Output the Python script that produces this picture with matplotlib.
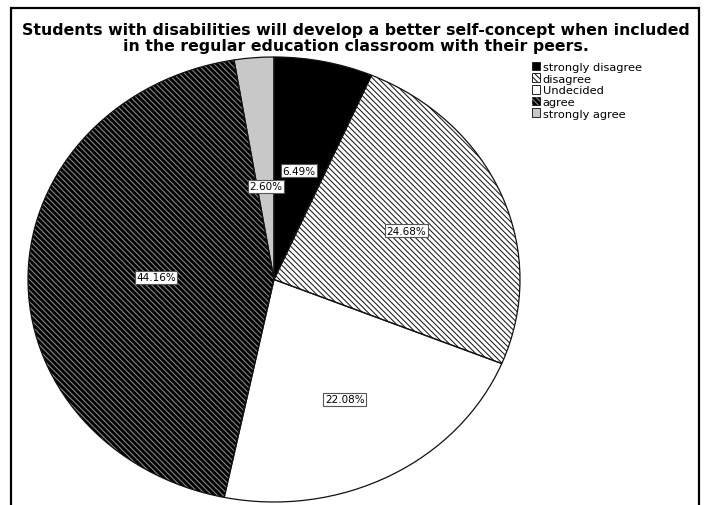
import numpy as np
import matplotlib
matplotlib.use("Agg")
import matplotlib.pyplot as plt
from matplotlib.patches import Patch, Rectangle

# survey responses (percent of respondents)
categories = ["strongly disagree", "disagree", "Undecided", "agree", "strongly agree"]
percents = [6.49, 24.68, 22.08, 44.16, 2.60]

fill_colors = ["#000000", "#ffffff", "#ffffff", "#000000", "#c8c8c8"]
hatch_colors = ["none", "#1a1a1a", "none", "#8c8c8c", "none"]
hatches = [None, "\\" * 6, None, "\\" * 6, None]
label_radius = [0.50, 0.58, 0.61, 0.48, 0.42]

title = ("Students with disabilities will develop a better self-concept when included\n"
         "in the regular education classroom with their peers.")

plt.rcParams["hatch.linewidth"] = 0.75

fig = plt.figure(figsize=(7.12, 5.06), dpi=100)
ax = fig.add_axes([28 / 712, 3 / 506, 492 / 712, 445 / 506])

# solid fills
wedges, _ = ax.pie(percents, colors=fill_colors, startangle=90,
                   counterclock=False, wedgeprops=dict(linewidth=0))

# hatch overlay
overlay, _ = ax.pie(percents, colors=["none"] * len(percents), startangle=90,
                    counterclock=False, hatch=hatches,
                    wedgeprops=dict(linewidth=0))
for w, hc in zip(overlay, hatch_colors):
    w.set_edgecolor(hc)

# outlines
ax.pie(percents, colors=["none"] * len(percents), startangle=90,
       counterclock=False, wedgeprops=dict(edgecolor="#111111", linewidth=0.9))

ax.set_aspect("auto")
ax.set_xlim(-1, 1)
ax.set_ylim(-1, 1)

# percentage labels
for w, pct, r in zip(wedges, percents, label_radius):
    mid = np.deg2rad((w.theta1 + w.theta2) / 2)
    ax.text(r * np.cos(mid), r * np.sin(mid), f"{pct:.2f}%",
            ha="center", va="center", fontsize=7.5, color="black",
            bbox=dict(boxstyle="square,pad=0.15", facecolor="white",
                      edgecolor="#555555", linewidth=0.8))

fig.text(0.5, 1 - 38.5 / 506, title, ha="center", va="center",
         fontsize=11.3, fontweight="bold", linespacing=1.08)

# legend with overlaid fill + hatch
handles = []
for fc, hc, h in zip(fill_colors, hatch_colors, hatches):
    base = Patch(facecolor=fc, edgecolor="#222222", linewidth=0.7)
    if h:
        top = Patch(facecolor="none", edgecolor=hc, hatch=h, linewidth=0)
        handles.append((base, top))
    else:
        handles.append(base)
fig.legend(handles, categories, loc="upper left",
           bbox_to_anchor=(526 / 712, 1 - 57 / 506), frameon=False,
           fontsize=8.2, handlelength=0.75, handleheight=0.8,
           handletextpad=0.2, labelspacing=0.12, borderpad=0)

# outer frame
fig.add_artist(Rectangle((11 / 712, -0.05), 688 / 712, 1.05 - 9 / 506,
                         transform=fig.transFigure, fill=False,
                         edgecolor="black", linewidth=1.6))

fig.savefig("out.png", dpi=100)
